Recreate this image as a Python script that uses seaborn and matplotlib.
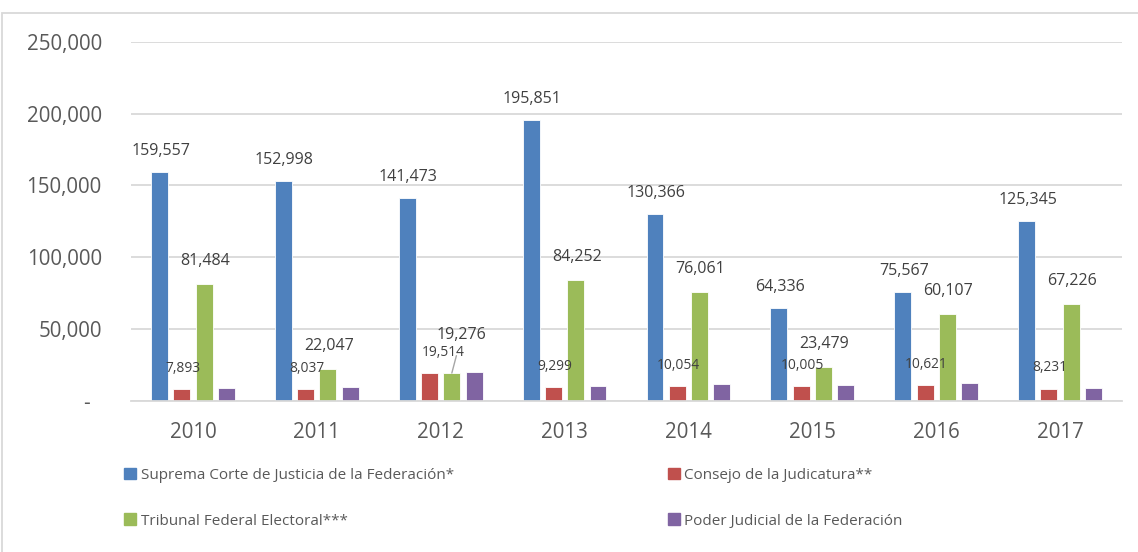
import matplotlib
matplotlib.use("Agg")
import matplotlib.pyplot as plt
import matplotlib.patches as mpatches
import seaborn as sns
import pandas as pd

years = ["2010", "2011", "2012", "2013", "2014", "2015", "2016", "2017"]
series = ["Suprema Corte de Justicia de la Federación*",
          "Consejo de la Judicatura**",
          "Tribunal Federal Electoral***",
          "Poder Judicial de la Federación"]
suprema = [159557, 152998, 141473, 195851, 130366, 64336, 75567, 125345]
consejo = [7893, 8037, 19514, 9299, 10054, 10005, 10621, 8231]
tribunal = [81484, 22047, 19276, 84252, 76061, 23479, 60107, 67226]
poder = [9000, 9400, 20000, 10500, 11700, 11200, 12300, 9000]
colors = ["#4F81BD", "#C0504D", "#9BBB59", "#8064A2"]
yticks = [0, 50000, 100000, 150000, 200000, 250000]

rows = []
for s, vals in zip(series, [suprema, consejo, tribunal, poder]):
    for y, v in zip(years, vals):
        rows.append({"Año": y, "Serie": s, "Valor": v})
df = pd.DataFrame(rows)

sns.set_theme(style="white")
plt.rcParams["font.family"] = ["Open Sans", "DejaVu Sans"]
TXT = "#595959"

W, H = 1138, 552
fig = plt.figure(figsize=(W / 100, H / 100), dpi=100)
ax = fig.add_axes([131 / W, 1 - 400.7 / H, (1122 - 131) / W, (400.7 - 42) / H])

sns.barplot(data=df, x="Año", y="Valor", hue="Serie", hue_order=series,
            order=years, palette=colors, saturation=1, width=0.72, gap=0.24,
            edgecolor="white", linewidth=0.6, ax=ax, legend=False)

ax.set_ylim(0, 250000)
ax.set_xlim(-0.5, len(years) - 0.5)
ax.set_yticks(yticks)
ax.set_yticklabels(["-  "] + [f"{v:,}" for v in yticks[1:]])
ax.set_xlabel("")
ax.set_ylabel("")
ax.grid(axis="y", color="#D9D9D9", linewidth=1.3)
ax.set_axisbelow(True)
for sp in ["left", "right", "top"]:
    ax.spines[sp].set_visible(False)
ax.spines["bottom"].set_color("#D9D9D9")
ax.spines["bottom"].set_linewidth(1.3)
ax.tick_params(axis="y", length=0, pad=21, labelsize=14.8, labelcolor=TXT)
ax.tick_params(axis="x", length=0, pad=15, labelsize=14.8, labelcolor=TXT)

k = 0.72  # px -> pt
def label(bar, text, dx, dy, size, line=False):
    x = bar.get_x() + bar.get_width() / 2
    y = bar.get_height()
    kw = {}
    if line:
        kw["arrowprops"] = dict(arrowstyle="-", color="#A6A6A6", lw=1,
                                shrinkA=7, shrinkB=0)
    ax.annotate(text, (x, y), xytext=(dx * k, dy * k), textcoords="offset points",
                ha="center", va="center", fontsize=size, color="#404040", **kw)

cont = ax.containers
for i, bar in enumerate(cont[0]):
    label(bar, f"{suprema[i]:,}", 1, 21, 11.5)
for i, bar in enumerate(cont[1]):
    if years[i] == "2012":
        label(bar, f"{consejo[i]:,}", 14, 20, 9.9)
    else:
        label(bar, f"{consejo[i]:,}", 1, 21, 9.9)
for i, bar in enumerate(cont[2]):
    if years[i] == "2012":
        label(bar, f"{tribunal[i]:,}", 10, 38, 11.5, line=True)
    else:
        label(bar, f"{tribunal[i]:,}", 1, 23, 11.5)

handles = [mpatches.Patch(color=c) for c in colors]
order = [0, 2, 1, 3]
leg = fig.legend([handles[i] for i in order], [series[i] for i in order],
                 ncol=2, loc="upper left", bbox_to_anchor=(110 / W, 1 - 454 / H),
                 frameon=False, fontsize=11, handlelength=0.8, handleheight=0.8,
                 handletextpad=0.3, labelspacing=2.0, columnspacing=14.0,
                 labelcolor=TXT)

border = mpatches.Rectangle((2 / W, -0.1), 1.2, 1.1 - 12.7 / H, transform=fig.transFigure,
                            fill=False, edgecolor="#D9D9D9", linewidth=1.3, clip_on=False)
fig.patches.append(border)

fig.savefig("out.png", dpi=100, facecolor="white")
